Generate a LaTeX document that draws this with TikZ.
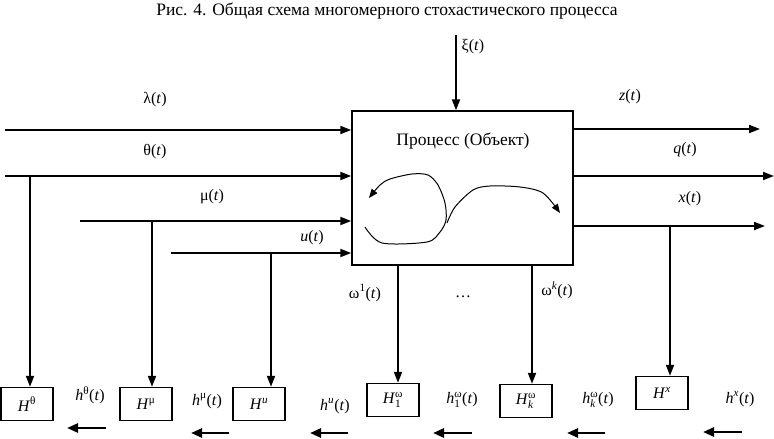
\documentclass[tikz,border=0pt]{standalone}
\usepackage{amsmath}
\usepackage{fontspec}
\setmainfont{Liberation Serif}
\usetikzlibrary{arrows.meta,positioning}
\newcommand{\targ}{(\textit{t})}
\begin{document}
\begin{tikzpicture}[x=1pt,y=-1pt,
	sig/.style={line width=1.8pt,-{Triangle[length=11pt,width=8pt]}},
	back/.style={line width=2.6pt,-{Triangle[length=11pt,width=9pt]}},
	hbox/.style={draw,line width=1.4pt,minimum width=52pt,minimum height=33pt,inner sep=0pt,font=\fontsize{16}{18}\selectfont},
	lbl/.style={inner sep=1pt,font=\fontsize{16}{18}\selectfont}]
	\useasboundingbox (0,0) rectangle (774,439);
	% Titre
	\node[font=\fontsize{17.5}{20}\selectfont] (title) at (387,11) {Рис. 4. Общая схема многомерного стохастического процесса};

	% Processus
	\node[draw,line width=1.4pt,minimum width=221pt,minimum height=154pt,inner sep=0pt] (proc) at (462.5,188) {};
	\node[font=\fontsize{17.5}{20}\selectfont] (ptext) at (463,141) {Процесс (Объект)};
	\draw[line width=1pt,-{Triangle[length=9pt,width=7pt]}] plot[smooth] coordinates {(365,227) (382,243) (427,242) (440,232) (446,220) (445,203) (438,185) (428,175) (412,174) (390,179) (380,185) (369,198)};
	\draw[line width=1pt,-{Triangle[length=9pt,width=7pt]}] plot[smooth] coordinates {(447,223) (455,207) (473,190) (490,186) (520,187) (543,193) (560,213)};

	% Perturbation
	\coordinate (xi) at (456,35);
	\draw[sig] (xi) -- (xi |- proc.north);
	\node[lbl] (lxi) at (473,47) {ξ\targ};

	% Entrees
	\foreach \x/\y/\n in {5/130/lam,5/176/theta,80/221/mu,171/253/u}{
		\coordinate (in\n) at (\x,\y);
		\draw[sig] (in\n) -- (in\n -| proc.west);
		}
	\node[lbl] (llam) at (155,100) {λ\targ};
	\node[lbl] (ltheta) at (155,152) {θ\targ};
	\node[lbl] (lmu) at (212,197) {μ\targ};
	\node[lbl] (lu) at (312,238) {\textit{u}\targ};

	% Sorties
	\foreach \y/\xe/\n in {129/760/z,176/774/q,226/765/x}{
		\coordinate (out\n) at (\xe,\y);
		\draw[sig] (out\n -| proc.east) -- (out\n);
		}
	\node[lbl] (lz) at (630,97) {\textit{z}\targ};
	\node[lbl] (lq) at (685,150) {\textit{q}\targ};
	\node[lbl] (lx) at (690,199) {\textit{x}\targ};

	% Blocs H
	\node[hbox] (Htheta) at (27,404) {\textit{H}$^{\textrm{θ}}$};
	\node[hbox] (Hmu) at (146,404) {\textit{H}$^{\textrm{μ}}$};
	\node[hbox] (Hu) at (259,404) {\textit{H}$^{\textit{u}}$};
	\node[hbox] (Hw1) at (393,400) {\textit{H}$^{\textrm{ω}}_{\textrm{1}}$};
	\node[hbox] (Hwk) at (526,401) {\textit{H}$^{\textrm{ω}}_{\textit{k}}$};
	\node[hbox] (Hx) at (662,393) {\textit{H}$^{\textit{x}}$};

	% Derivations
	\coordinate (dtheta) at (30,176);
	\coordinate (dmu) at (152,221);
	\coordinate (du) at (271,253);
	\coordinate (dw1) at (398,265);
	\coordinate (dwk) at (532,265);
	\coordinate (dx) at (670,226);
	\draw[sig] (dtheta) -- (dtheta |- Htheta.north);
	\draw[sig] (dmu) -- (dmu |- Hmu.north);
	\draw[sig] (du) -- (du |- Hu.north);
	\draw[sig] (dw1) -- (dw1 |- Hw1.north);
	\draw[sig] (dwk) -- (dwk |- Hwk.north);
	\draw[sig] (dx) -- (dx |- Hx.north);
	\node[lbl] (lw1) at (365,293) {ω$^{\textrm{1}}$\targ};
	\node[lbl] (ldots) at (463,297) {…};
	\node[lbl] (lwk) at (557,290) {ω$^{\textit{k}}$\targ};

	% Retours h
	\foreach \xs/\xe/\y in {106/67/428,229/191/433,348/310/433,472/433/433,605/567/433,742/703/432}{
		\draw[back] (\xs,\y) -- (\xe,\y);
		}
	\node[lbl] (htheta) at (90,395) {\textit{h}$^{\textrm{θ}}$\targ};
	\node[lbl] (hmu) at (207,401) {\textit{h}$^{\textrm{μ}}$\targ};
	\node[lbl] (hu) at (335,406) {\textit{h}$^{\textit{u}}$\targ};
	\node[lbl] (hw1) at (462,400) {\textit{h}$^{\textrm{ω}}_{\textrm{1}}$\targ};
	\node[lbl] (hwk) at (598,400) {\textit{h}$^{\textrm{ω}}_{\textit{k}}$\targ};
	\node[lbl] (hx) at (740,399) {\textit{h}$^{\textit{x}}$\targ};
\end{tikzpicture}
\end{document}
